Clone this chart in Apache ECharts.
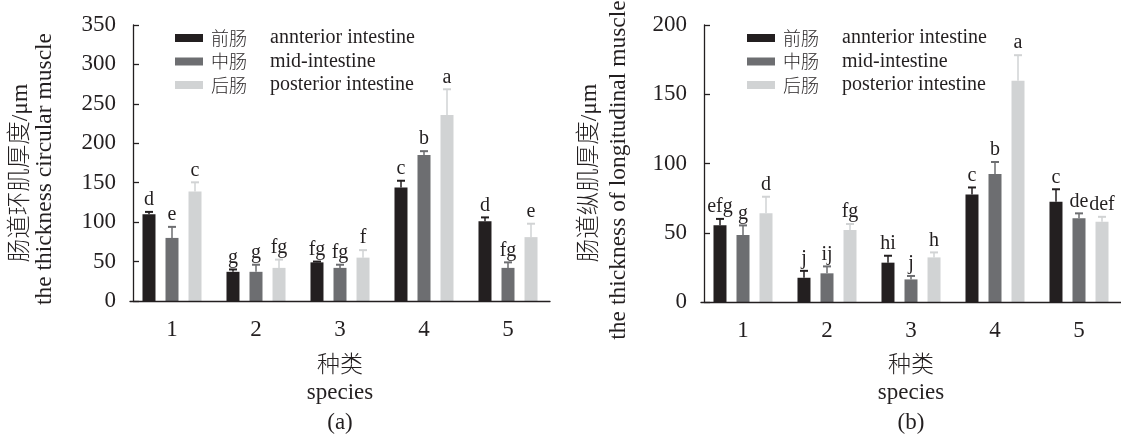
<!DOCTYPE html>
<html>
<head>
<meta charset="utf-8">
<script src="https://cdn.jsdelivr.net/npm/echarts@6/dist/echarts.min.js"></script>
<style>
  html, body { margin: 0; padding: 0; background: #fff; }
  #main { width: 1121px; height: 439px; }
</style>
</head>
<body>
<div id="main"></div>
<script>
// categories
const species = ['1', '2', '3', '4', '5'];
const partNames = ['前肠', '中肠', '后肠'];
const partNamesEn = ['annterior intestine', 'mid-intestine', 'posterior intestine'];

// (a) circular muscle thickness, μm
const circAnt = [110, 37, 49, 144, 101];
const circAntErr = [3, 3, 1, 8.5, 5];
const circAntSig = ['d', 'g', 'fg', 'c', 'd'];
const circMid = [80, 37, 42, 185, 42];
const circMidErr = [14, 9, 4, 5, 7];
const circMidSig = ['e', 'g', 'fg', 'b', 'fg'];
const circPost = [139, 42, 55, 236, 81];
const circPostErr = [11.5, 10.5, 9.5, 32.5, 17];
const circPostSig = ['c', 'fg', 'f', 'a', 'e'];

// (b) longitudinal muscle thickness, μm
const longAnt = [55.5, 17.5, 28.4, 77.7, 72.4];
const longAntErr = [4.5, 5, 5, 5, 9];
const longAntSig = ['efg', 'j', 'hi', 'c', 'c'];
const longMid = [48.3, 20.7, 16.3, 92.4, 60.4];
const longMidErr = [7, 5, 2.5, 8.7, 3.6];
const longMidSig = ['g', 'ij', 'j', 'b', 'de'];
const longPost = [64, 52, 32.2, 159.7, 57.9];
const longPostErr = [12, 4.3, 3.6, 18.5, 3.6];
const longPostSig = ['d', 'fg', 'h', 'a', 'def'];

const colors = ['#231f20', '#6d6e71', '#d1d3d4'];
const ink = '#231f20';
const serif = 'Liberation Serif, Times New Roman';
const cjk = 'Noto Sans CJK SC';

const chart = echarts.init(document.getElementById('main'));

// error bar + significance letter, drawn through the axes
function errSeries(name, gi, k, vals, errs, sigs) {
  const offset = (k - 1) * 23;
  return {
    name: name,
    type: 'custom',
    xAxisIndex: gi,
    yAxisIndex: gi,
    z: 4,
    silent: true,
    data: vals.map((v, i) => [i, v, errs[i]]),
    renderItem: function (params, api) {
      const c = api.value(0);
      const x = api.coord([c, 0])[0] + offset;
      const yTop = api.coord([c, api.value(1)])[1];
      const yCap = api.coord([c, api.value(1) + api.value(2)])[1];
      return {
        type: 'group',
        children: [
          { type: 'line', shape: { x1: x, y1: yTop, x2: x, y2: yCap },
            style: { stroke: colors[k], lineWidth: 1.5 } },
          { type: 'line', shape: { x1: x - 4, y1: yCap, x2: x + 4, y2: yCap },
            style: { stroke: colors[k], lineWidth: 2 } },
          { type: 'text', x: x, y: yCap - 2,
            style: { text: sigs[params.dataIndex], align: 'center', verticalAlign: 'bottom',
                     fontFamily: serif, fontSize: 20, fill: ink } }
        ]
      };
    }
  };
}

function barSeries(name, gi, k, vals) {
  return {
    name: name,
    type: 'bar',
    xAxisIndex: gi,
    yAxisIndex: gi,
    barWidth: 13,
    barGap: '77%',
    itemStyle: { color: colors[k] },
    data: vals
  };
}

function xAxisFor(gi) {
  return {
    gridIndex: gi,
    type: 'category',
    data: species,
    z: 5,
    axisLine: { lineStyle: { color: ink, width: 1.3 } },
    axisTick: { alignWithLabel: true, inside: true, length: 6, lineStyle: { color: ink, width: 1.3 } },
    axisLabel: { color: ink, fontFamily: serif, fontSize: 23, margin: 17 },
    splitLine: { show: false }
  };
}

function yAxisFor(gi, max) {
  return {
    gridIndex: gi,
    type: 'value',
    min: 0,
    max: max,
    interval: 50,
    offset: -3,
    axisLine: { show: true, lineStyle: { color: ink, width: 1.3 } },
    axisTick: { show: true, inside: true, length: 6, lineStyle: { color: ink, width: 1.3 } },
    axisLabel: { color: ink, fontFamily: serif, fontSize: 23, margin: 17 },
    splitLine: { show: false }
  };
}

function legendFor(left) {
  return {
    data: partNames,
    orient: 'vertical',
    left: left,
    top: 23,
    icon: 'rect',
    itemWidth: 28,
    itemHeight: 8,
    itemGap: 3.5,
    selectedMode: false,
    formatter: function (name) {
      return '{a|' + name + '}{b|' + partNamesEn[partNames.indexOf(name)] + '}';
    },
    textStyle: {
      rich: {
        a: { fontFamily: cjk, fontWeight: 300, fontSize: 18, color: ink, width: 59, padding: [0, 0, 0, 3] },
        b: { fontFamily: serif, fontSize: 20, color: ink }
      }
    }
  };
}

function txt(x, y, s, size, rot) {
  return {
    type: 'text', x: x, y: y, rotation: rot || 0,
    style: { text: s, align: 'center', verticalAlign: 'middle',
             fontFamily: serif + ', ' + cjk, fontWeight: 300, fontSize: size, fill: ink }
  };
}

const option = {
  animation: false,
  backgroundColor: '#fff',
  grid: [
    { left: 130, top: 25, width: 420, height: 276 },
    { left: 701, top: 25, width: 420, height: 277 }
  ],
  legend: [legendFor(170), legendFor(742)],
  xAxis: [xAxisFor(0), xAxisFor(1)],
  yAxis: [yAxisFor(0, 350), yAxisFor(1, 200)],
  series: [
    barSeries(partNames[0], 0, 0, circAnt),
    barSeries(partNames[1], 0, 1, circMid),
    barSeries(partNames[2], 0, 2, circPost),
    barSeries(partNames[0], 1, 0, longAnt),
    barSeries(partNames[1], 1, 1, longMid),
    barSeries(partNames[2], 1, 2, longPost),
    errSeries('errA0', 0, 0, circAnt, circAntErr, circAntSig),
    errSeries('errA1', 0, 1, circMid, circMidErr, circMidSig),
    errSeries('errA2', 0, 2, circPost, circPostErr, circPostSig),
    errSeries('errB0', 1, 0, longAnt, longAntErr, longAntSig),
    errSeries('errB1', 1, 1, longMid, longMidErr, longMidSig),
    errSeries('errB2', 1, 2, longPost, longPostErr, longPostSig)
  ],
  graphic: [
    txt(21, 173, '肠道环肌厚度/μm', 23.5, Math.PI / 2),
    txt(45, 169, 'the thickness circular muscle', 23.5, Math.PI / 2),
    txt(340, 366, '种类', 23),
    txt(340, 393, 'species', 23),
    txt(340, 423, '(a)', 23),
    txt(590, 173, '肠道纵肌厚度/μm', 23.5, Math.PI / 2),
    txt(619, 170, 'the thickness of longitudinal muscle', 23.5, Math.PI / 2),
    txt(911, 366, '种类', 23),
    txt(911, 393, 'species', 23),
    txt(911, 423, '(b)', 23)
  ]
};

chart.setOption(option);
</script>
</body>
</html>
